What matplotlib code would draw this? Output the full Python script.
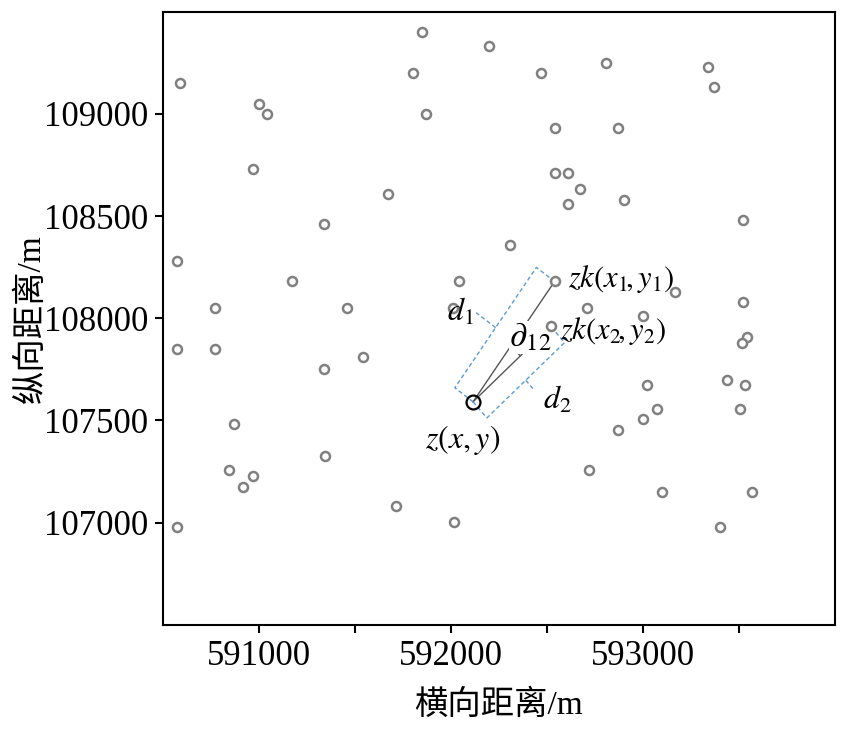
import numpy as np
import matplotlib
matplotlib.use('Agg')
import matplotlib.pyplot as plt
from matplotlib.ticker import FixedLocator, FuncFormatter

plt.rcParams['font.family'] = ['Liberation Serif', 'Noto Sans CJK SC']
plt.rcParams['mathtext.fontset'] = 'stix'
plt.rcParams['font.size'] = 24

# 钻孔坐标 (横向, 纵向)
xs = [590590, 591000, 591040, 590970, 591850, 591800, 591870, 592200, 592470, 592540,
      592810, 592870, 593340, 593370, 592540, 592610, 592670, 592610, 592900, 593520,
      591670, 591340, 592310, 590570, 591170, 592040, 590770, 591460, 593170, 592710,
      593520, 593000, 592010, 590570, 590770, 593545, 593515, 591540, 591340, 593440,
      593530, 593020, 593075, 593000, 593505, 592870, 592720, 593100, 593570, 593400,
      590870, 591345, 590845, 590970, 590915, 591715, 592015, 590570]
ys = [109150, 109050, 109000, 108730, 109400, 109200, 109000, 109330, 109200, 108930,
      109250, 108930, 109230, 109130, 108710, 108710, 108630, 108560, 108580, 108480,
      108610, 108460, 108360, 108280, 108180, 108180, 108050, 108050, 108130, 108050,
      108080, 108010, 108050, 107850, 107850, 107910, 107880, 107810, 107750, 107700,
      107675, 107675, 107555, 107505, 107555, 107455, 107255, 107150, 107150, 106980,
      107480, 107325, 107255, 107230, 107175, 107080, 107005, 106980]

# 待估点与两个邻近钻孔
z = (592115, 107591)
zk1 = (592540, 108180)
zk2 = (592520, 107960)
d1_width = 117
d2_width = 107

xticks = [591000, 591500, 592000, 592500, 593000, 593500]
yticks = [107000, 107500, 108000, 108500, 109000]

fig = plt.figure(figsize=(8.5, 7.29), dpi=100)
ax = fig.add_axes([0.192, 0.143, 0.790, 0.841])
ax.set_xlim(590500, 594000)
ax.set_ylim(106500, 109500)

ax.plot(xs + [zk1[0], zk2[0]], ys + [zk1[1], zk2[1]], 'o', ms=6.5, mfc='white',
        mec='#808080', mew=1.8, zorder=3)
ax.plot(z[0], z[1], 'o', ms=10, mfc='none', mec='black', mew=1.6, zorder=5)

# 连线
for p in (zk1, zk2):
    ax.plot([z[0], p[0]], [z[1], p[1]], color='#555555', lw=1, zorder=2)


def strip(p, w, sign):
    d = np.array(p) - np.array(z)
    n = np.array([-d[1], d[0]]) / np.hypot(*d) * sign
    a = np.array(z) + w * n
    b = np.array(p) + w * n
    return a, b, n


blue = '#5b9bd5'
dash = (0, (3, 2))
a1, b1, n1 = strip(zk1, d1_width, 1)
ax.plot([z[0], a1[0], b1[0], zk1[0]], [z[1], a1[1], b1[1], zk1[1]], color=blue, lw=1, ls=dash)
m1 = (a1 + b1) / 2
t1 = m1 + 125 * n1
ax.plot([m1[0], t1[0]], [m1[1], t1[1]], color=blue, lw=1, ls=dash)

a2, b2, n2 = strip(zk2, d2_width, -1)
ax.plot([z[0], a2[0], b2[0], zk2[0]], [z[1], a2[1], b2[1], zk2[1]], color=blue, lw=1, ls=dash)
m2 = (a2 + b2) / 2
t2 = m2 + 55 * n2
ax.plot([m2[0], t2[0]], [m2[1], t2[1]], color=blue, lw=1, ls=dash)

# 夹角弧线
fig.canvas.draw()
zp = ax.transData.transform(z)
ang = [np.arctan2(*(ax.transData.transform(p) - zp)[::-1]) for p in (zk1, zk2)]
th = np.linspace(ang[0], ang[1], 30)
arc = zp + 66 * np.column_stack([np.cos(th), np.sin(th)])
arc = ax.transData.inverted().transform(arc)
ax.plot(arc[:, 0], arc[:, 1], color='#555555', lw=1)

ax.text(592415, 107905, r'$\partial_{12}$', ha='center', va='center', fontsize=25,
        bbox=dict(fc='white', ec='none', pad=0.3), zorder=2.5)
ax.text(592608, 108190, r'$zk(x_1\!,y_1)$', ha='left', va='center', fontsize=22, zorder=6)
ax.text(592566, 107938, r'$zk(x_2\!,y_2)$', ha='left', va='center', fontsize=22, zorder=6)
ax.text(592047, 108027, r'$d_1$', ha='center', va='center', fontsize=23, zorder=6)
ax.text(592552, 107601, r'$d_2$', ha='center', va='center', fontsize=23, zorder=6)
ax.text(592063, 107405, r'$z(x,y)$', ha='center', va='center', fontsize=23, zorder=6)

ax.xaxis.set_major_locator(FixedLocator(xticks))
ax.xaxis.set_major_formatter(FuncFormatter(lambda v, pos: '%d' % v if v % 1000 == 0 else ''))
ax.yaxis.set_major_locator(FixedLocator(yticks))
ax.yaxis.set_major_formatter(FuncFormatter(lambda v, pos: '%d' % v))
ax.tick_params(direction='out', length=6, width=1.5, labelsize=25, pad=5)
for s in ax.spines.values():
    s.set_linewidth(1.5)

ax.set_xlabel('横向距离/m', fontsize=24, labelpad=12)
ax.set_ylabel('纵向距离/m', fontsize=24, labelpad=-2)

fig.savefig('out.png', dpi=100)
